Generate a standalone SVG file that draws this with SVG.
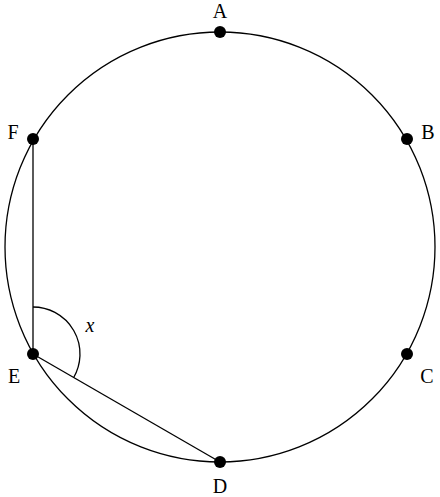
<svg xmlns="http://www.w3.org/2000/svg" width="440" height="497" viewBox="0 0 440 497">
<style>
.ln{fill:none;stroke:#000;stroke-width:1.3}
.pt{fill:#000}
.lb{font-family:"Liberation Serif","DejaVu Serif",serif;font-size:20px;fill:#000;text-anchor:middle}
.it{font-style:italic}
</style>
<rect width="440" height="497" fill="#fff"/>
<g id="circle"><circle class="ln" cx="220" cy="247" r="215"/></g>
<g id="connectors">
<line class="ln" x1="33" y1="139" x2="33" y2="354"/>
<line class="ln" x1="33" y1="354" x2="220" y2="462"/>
<path class="ln" d="M33 307 A47 47 0 0 1 73.7 377.5"/>
</g>
<g id="A"><circle class="pt" cx="220" cy="32" r="6"/><text class="lb" x="220" y="18">A</text></g>
<g id="B"><circle class="pt" cx="407" cy="139" r="6"/><text class="lb" x="428" y="139">B</text></g>
<g id="C"><circle class="pt" cx="407" cy="354" r="6"/><text class="lb" x="427" y="383">C</text></g>
<g id="D"><circle class="pt" cx="220" cy="462" r="6"/><text class="lb" x="220" y="493">D</text></g>
<g id="E"><circle class="pt" cx="33" cy="354" r="6"/><text class="lb" x="14" y="383">E</text></g>
<g id="F"><circle class="pt" cx="33" cy="139" r="6"/><text class="lb" x="13" y="139">F</text></g>
<g id="angle-label"><text class="lb it" x="90" y="332">x</text></g>
</svg>
